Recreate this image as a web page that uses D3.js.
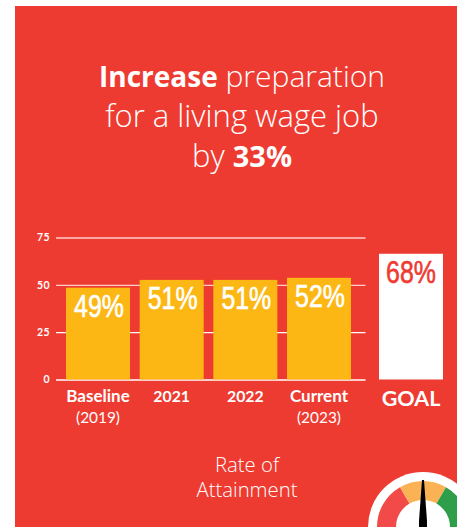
<!DOCTYPE html>
<html><head><meta charset="utf-8">
<script src="https://cdnjs.cloudflare.com/ajax/libs/d3/7.8.5/d3.min.js"></script>
<style>html,body{margin:0;padding:0;background:#fff}svg{display:block}text{fill:#fff}</style>
</head><body><svg id="c" width="457" height="527"></svg>
<script>
const categories=["Baseline","2021","2022","Current"];
const subLabels=["(2019)","","","(2023)"];
const barValues=[48.5,52.6,52.6,53.7];
const barLabels=["49%","51%","51%","52%"];
const goalCategory=["GOAL"];
const goalValues=[66.4];
const goalLabels=["68%"];
const yTicks=[0,25,50,75];
const gaugeSegments=[{a:-90,b:-30,c:"#f24a48"},{a:-30,b:30,c:"#fbb254"},{a:30,b:90,c:"#2f9e4b"}];
const gaugeReading=[0];

const RED="#ee3b31",YEL="#fdb714";
const svg=d3.select("#c");
svg.append("rect").attr("x",15).attr("y",6).attr("width",442).attr("height",521).attr("fill",RED);

// title
const TF="'Open Sans',sans-serif";
const title=svg.append("g").attr("font-family",TF).attr("font-size",30).attr("text-anchor","middle");
const t1=title.append("text").attr("x",242).attr("y",87);
t1.append("tspan").attr("font-weight",700).attr("font-size",28).text("Increase");
t1.append("tspan").attr("font-weight",300).text(" preparation");
title.append("text").attr("x",242).attr("y",127).attr("font-size",31).attr("font-weight",300).text("for a living wage job");
const t3=title.append("text").attr("x",242).attr("y",167).attr("font-size",31);
t3.append("tspan").attr("font-weight",300).text("by ");
t3.append("tspan").attr("font-weight",700).attr("font-size",29).text("33%");

// scales
const y=d3.scaleLinear().domain([0,75]).range([379.5,237.5]);
const x=d3.scaleBand().domain(categories).range([66,351]).paddingInner(0.131).paddingOuter(0);
const xg=d3.scaleBand().domain(goalCategory).range([379,443]);

// y axis + grid
const ax=svg.append("g").attr("transform","translate(56,0)").call(d3.axisLeft(y).tickValues(yTicks).tickSize(-309.5).tickPadding(6));
ax.select(".domain").remove();
ax.selectAll(".tick line").attr("stroke","#fff").attr("stroke-width",1.3).attr("stroke-opacity",d=>d>25?0.75:1);
ax.selectAll(".tick text").attr("font-family","Lato,sans-serif").attr("font-weight",700).attr("font-size",10.5).style("fill","#fff").attr("letter-spacing",0.4);

// narrow number labels
function num(g,txt,cx,ty,fill){
  g.append("text").attr("transform",`translate(${cx},${ty}) scale(0.83,1.05)`)
   .attr("text-anchor","middle").attr("font-family","'Liberation Sans',sans-serif").attr("font-weight",400)
   .attr("font-size",30).style("fill",fill).style("stroke",fill).style("stroke-width",0.6).text(txt);
}
// bars
const bars=svg.append("g");
bars.selectAll("rect").data(categories).join("rect")
 .attr("x",d=>x(d)).attr("width",x.bandwidth())
 .attr("y",(d,i)=>y(barValues[i])).attr("height",(d,i)=>y(0)-y(barValues[i])).attr("fill",YEL);
categories.forEach((c,i)=>num(bars,barLabels[i],x(c)+x.bandwidth()/2+1,y(barValues[i])+29,"#fff"));
// goal
svg.append("rect").attr("x",xg("GOAL")).attr("width",xg.bandwidth()).attr("y",y(goalValues[0])).attr("height",y(0)-y(goalValues[0])).attr("fill","#fff");
num(svg,goalLabels[0],xg("GOAL")+xg.bandwidth()/2,y(goalValues[0])+29,RED);

// category labels
const labs=svg.append("g").attr("font-family","Lato,sans-serif").attr("text-anchor","middle");
categories.forEach((c,i)=>{
  const cx=x(c)+x.bandwidth()/2;
  labs.append("text").attr("x",cx).attr("y",402).attr("font-size",c.length>4?17:15.8).attr("font-weight",700).text(c);
  if(subLabels[i]) labs.append("text").attr("x",cx).attr("y",423).attr("font-size",15.4).attr("font-weight",400).text(subLabels[i]);
});
labs.append("text").attr("x",xg("GOAL")+xg.bandwidth()/2).attr("y",406).attr("font-size",21.5).attr("font-weight",700).text(goalCategory[0]);

// rate of attainment
const rf=svg.append("g").attr("font-family",TF).attr("font-weight",300).attr("font-size",20.3).attr("text-anchor","middle");
rf.append("text").attr("x",247).attr("y",472).text("Rate of");
rf.append("text").attr("x",247).attr("y",497).text("Attainment");

// gauge
const g=svg.append("g").attr("transform","translate(423,527)");
g.append("circle").attr("r",55).attr("fill","#fff");
const arc=d3.arc().innerRadius(27).outerRadius(46);
const rad=d=>d*Math.PI/180;
g.selectAll("path.s").data(gaugeSegments).join("path").attr("class","s")
 .attr("d",d=>arc({startAngle:rad(d.a),endAngle:rad(d.b)})).attr("fill",d=>d.c);
const ang=d3.scaleLinear().domain([-1,1]).range([-90,90]);
const ng=g.append("g").attr("transform",`rotate(${ang(gaugeReading[0])})`);
ng.append("path").attr("d",d3.line()([[-1,-47],[1,-47],[4,-6],[4,0],[-4,0],[-4,-6]])).attr("fill","#000");
</script></body></html>
